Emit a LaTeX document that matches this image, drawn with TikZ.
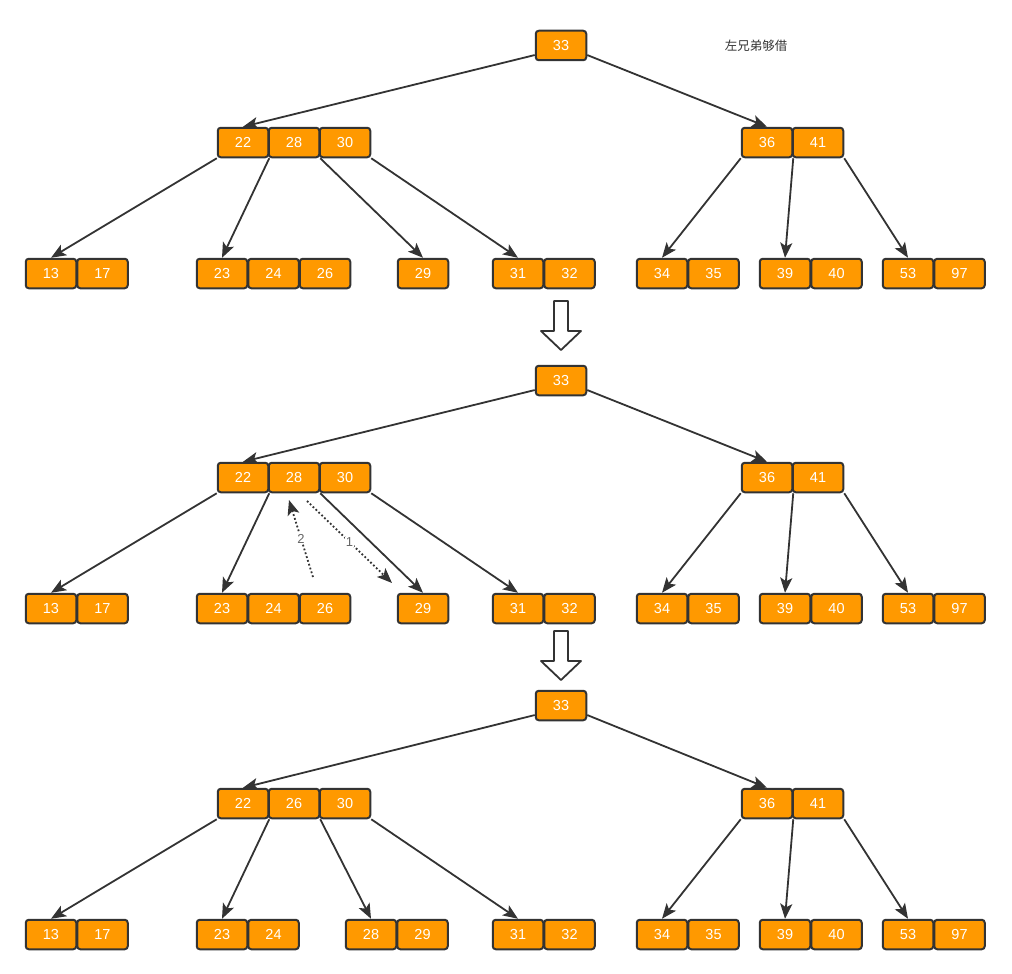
\documentclass[tikz,border=0pt]{standalone}
\usepackage{fontspec}
\setmainfont{Liberation Sans}
\newfontfamily\cjk{Noto Sans CJK SC}
\usetikzlibrary{positioning,arrows.meta}
\definecolor{keyfill}{HTML}{FF9900}
\definecolor{keyline}{HTML}{333333}
\definecolor{hintgray}{HTML}{666666}
\begin{document}
\begin{tikzpicture}[x=1pt,y=-1pt,>={Stealth[length=15pt,width=12pt,inset=3.5pt]},line join=round,
	key/.style={draw=keyline,line width=2pt,fill=keyfill,rounded corners=3pt,minimum width=50.5pt,minimum height=29.5pt,inner sep=0pt,text=white,font=\fontsize{14.5}{16}\selectfont},
	edge/.style={->,draw=keyline,line width=1.8pt},
	hint/.style={->,draw=keyline,line width=1.8pt,dash pattern=on 1.8pt off 2.2pt},
	hintlabel/.style={fill=white,inner sep=1pt,text=hintgray,font=\fontsize{13}{15}\selectfont},
	hollow/.style={draw=keyline,line width=1.8pt,fill=white}]
	\useasboundingbox (0,0) rectangle (1012,974);
	\node[text=keyline,font=\cjk\fontsize{12.5}{15}\selectfont] (note) at (756,46) {左兄弟够借};
	% first tree
	\node[key] (a33) at (561,45.5) {33};
	\node[key] (a22) at (243,142.5) {22};
	\node[key,right=-1.5pt of a22] (a28) {28};
	\node[key,right=-1.5pt of a28] (a30) {30};
	\node[key] (a36) at (767,142.5) {36};
	\node[key,right=-1.5pt of a36] (a41) {41};
	\node[key] (a13) at (51,273.5) {13};
	\node[key,right=-1pt of a13] (a17) {17};
	\node[key] (a23) at (222,273.5) {23};
	\node[key,right=-1pt of a23] (a24) {24};
	\node[key,right=-1pt of a24] (a26) {26};
	\node[key] (a29) at (423,273.5) {29};
	\node[key] (a31) at (518,273.5) {31};
	\node[key,right=-1pt of a31] (a32) {32};
	\node[key] (a34) at (662,273.5) {34};
	\node[key,right=-1pt of a34] (a35) {35};
	\node[key] (a39) at (785,273.5) {39};
	\node[key,right=-1pt of a39] (a40) {40};
	\node[key] (a53) at (908,273.5) {53};
	\node[key,right=-1pt of a53] (a97) {97};
	\draw[edge] (a33.200)--(a22.north);
	\draw[edge] (a33.-20)--(a36.north);
	\draw[edge] (a22.south west)--(a13.north);
	\draw[edge] (a22.south east)--(a23.north);
	\draw[edge] (a28.south east)--(a29.north);
	\draw[edge] (a30.south east)--(a31.north);
	\draw[edge] (a36.south west)--(a34.north);
	\draw[edge] (a36.south east)--(a39.north);
	\draw[edge] (a41.south east)--(a53.north);
	\draw[hollow] (554,301)--(568,301)--(568,331)--(581,331)--(561,350)--(541,331)--(554,331)--cycle;
	% second tree
	\begin{scope}[yshift=-335pt]
		\node[key] (b33) at (561,45.5) {33};
		\node[key] (b22) at (243,142.5) {22};
		\node[key,right=-1.5pt of b22] (b28) {28};
		\node[key,right=-1.5pt of b28] (b30) {30};
		\node[key] (b36) at (767,142.5) {36};
		\node[key,right=-1.5pt of b36] (b41) {41};
		\node[key] (b13) at (51,273.5) {13};
		\node[key,right=-1pt of b13] (b17) {17};
		\node[key] (b23) at (222,273.5) {23};
		\node[key,right=-1pt of b23] (b24) {24};
		\node[key,right=-1pt of b24] (b26) {26};
		\node[key] (b29) at (423,273.5) {29};
		\node[key] (b31) at (518,273.5) {31};
		\node[key,right=-1pt of b31] (b32) {32};
		\node[key] (b34) at (662,273.5) {34};
		\node[key,right=-1pt of b34] (b35) {35};
		\node[key] (b39) at (785,273.5) {39};
		\node[key,right=-1pt of b39] (b40) {40};
		\node[key] (b53) at (908,273.5) {53};
		\node[key,right=-1pt of b53] (b97) {97};
		\draw[edge] (b33.200)--(b22.north);
		\draw[edge] (b33.-20)--(b36.north);
		\draw[edge] (b22.south west)--(b13.north);
		\draw[edge] (b22.south east)--(b23.north);
		\draw[edge] (b28.south east)--(b29.north);
		\draw[edge] (b30.south east)--(b31.north);
		\draw[edge] (b36.south west)--(b34.north);
		\draw[edge] (b36.south east)--(b39.north);
		\draw[edge] (b41.south east)--(b53.north);
		\coordinate (down1) at (307,166);
		\coordinate (down1end) at (392,248);
		\coordinate (up2) at (313,242);
		\coordinate (up2end) at (289,165);
		\draw[hint] (down1)--node[hintlabel]{1}(down1end);
		\draw[hint] (up2)--node[hintlabel]{2}(up2end);
	\end{scope}
	\draw[hollow] (554,631)--(568,631)--(568,661)--(581,661)--(561,680)--(541,661)--(554,661)--cycle;
	% third tree
	\begin{scope}[yshift=-660pt]
		\node[key] (c33) at (561,45.5) {33};
		\node[key] (c22) at (243,143.5) {22};
		\node[key,right=-1.5pt of c22] (c26) {26};
		\node[key,right=-1.5pt of c26] (c30) {30};
		\node[key] (c36) at (767,143.5) {36};
		\node[key,right=-1.5pt of c36] (c41) {41};
		\node[key] (c13) at (51,274.5) {13};
		\node[key,right=-1pt of c13] (c17) {17};
		\node[key] (c23) at (222,274.5) {23};
		\node[key,right=-1pt of c23] (c24) {24};
		\node[key] (c28) at (371,274.5) {28};
		\node[key,right=-1pt of c28] (c29) {29};
		\node[key] (c31) at (518,274.5) {31};
		\node[key,right=-1pt of c31] (c32) {32};
		\node[key] (c34) at (662,274.5) {34};
		\node[key,right=-1pt of c34] (c35) {35};
		\node[key] (c39) at (785,274.5) {39};
		\node[key,right=-1pt of c39] (c40) {40};
		\node[key] (c53) at (908,274.5) {53};
		\node[key,right=-1pt of c53] (c97) {97};
		\draw[edge] (c33.200)--(c22.north);
		\draw[edge] (c33.-20)--(c36.north);
		\draw[edge] (c22.south west)--(c13.north);
		\draw[edge] (c22.south east)--(c23.north);
		\draw[edge] (c26.south east)--(c28.north);
		\draw[edge] (c30.south east)--(c31.north);
		\draw[edge] (c36.south west)--(c34.north);
		\draw[edge] (c36.south east)--(c39.north);
		\draw[edge] (c41.south east)--(c53.north);
	\end{scope}
\end{tikzpicture}
\end{document}
